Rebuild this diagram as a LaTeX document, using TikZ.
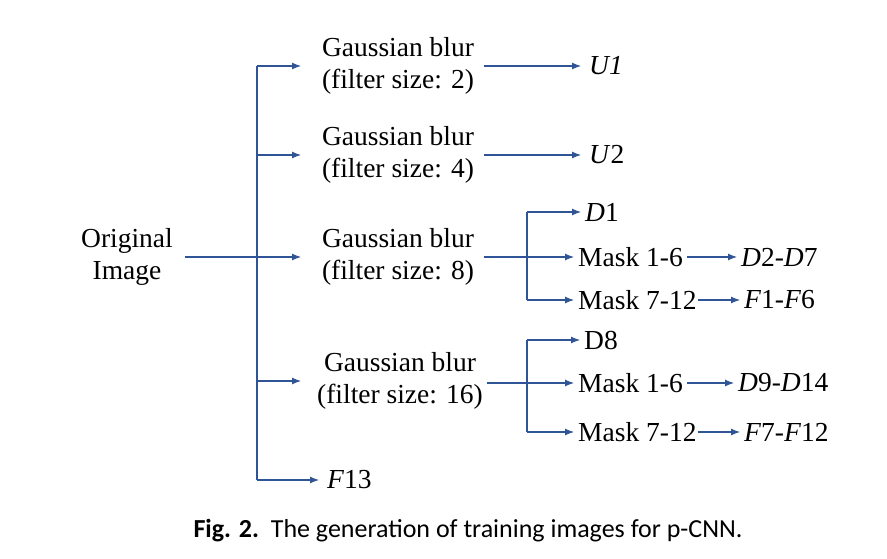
\documentclass[tikz,border=0pt]{standalone}
\usepackage{fontspec}
\setmainfont{Liberation Serif}
\newfontfamily\capfont{Carlito}
\usetikzlibrary{arrows.meta}
\definecolor{ab}{HTML}{2F5597}
\begin{document}
\begin{tikzpicture}[x=1pt,y=-1pt,
  every node/.style={font=\fontsize{27.5}{32}\selectfont,inner sep=1pt},
  box/.style={align=center},
  ar/.style={draw=ab,line width=1.1pt,-{Latex[length=9pt,width=7pt]},shorten >=7pt},
  ln/.style={draw=ab,line width=1.1pt}]
\useasboundingbox (0,0) rectangle (887,559);
\node[box] (orig) at (127,257) {Original\\Image};
\node[box] (g2) at (398,66) {Gaussian blur\\(filter size: 2)};
\node[box] (g4) at (398,155) {Gaussian blur\\(filter size: 4)};
\node[box] (g8) at (398,257) {Gaussian blur\\(filter size: 8)};
\node[box] (g16) at (400,381) {Gaussian blur\\(filter size: 16)};
\node[anchor=west] (f13) at (326,480) {\textit{F}13};
\node[anchor=west] (u1) at (588,66) {\textit{U1}};
\node[anchor=west] (u2) at (588,155) {\textit{U}2};
\node[anchor=west] (d1) at (584,212) {\textit{D}1};
\node[anchor=west] (m1) at (577,257) {Mask 1-6};
\node[anchor=west] (m2) at (577,300) {Mask 7-12};
\node[anchor=west] (d2) at (740,257) {\textit{D}2-\textit{D}7};
\node[anchor=west] (f1) at (743,300) {\textit{F}1-\textit{F}6};
\node[anchor=west] (d8) at (583,340) {D8};
\node[anchor=west] (m3) at (577,383) {Mask 1-6};
\node[anchor=west] (m4) at (577,432) {Mask 7-12};
\node[anchor=west] (d9) at (737,383) {\textit{D}9-\textit{D}14};
\node[anchor=west] (f7) at (743,432) {\textit{F}7-\textit{F}12};
\node (cap) at (468,531) {\capfont\fontsize{26}{30}\selectfont\textbf{Fig. 2.}\ \ The generation of training images for p-CNN.};
\coordinate (t1) at (257,66); \coordinate (t5) at (257,480);
\draw[ln] (t1) -- (t5);
\draw[ar] (185,257) -- (308,257);
\draw[ar] (t1) -- (308,66);
\draw[ar] (257,155) -- (308,155);
\draw[ar] (257,381) -- (308,381);
\draw[ar] (t5) -- (f13.west);
\draw[ar] (484,66) -- (u1.west);
\draw[ar] (484,155) -- (u2.west);
% third
\coordinate (v1) at (527,212); \coordinate (v2) at (527,300);
\draw[ln] (484,257) -- (527,257);
\draw[ln] (v1) -- (v2);
\draw[ar,shorten >=3pt] (v1) -- (d1.west);
\draw[ar,shorten >=3pt] (527,257) -- (m1.west);
\draw[ar,shorten >=3pt] (v2) -- (m2.west);
\draw[ar,shorten <=3pt,shorten >=3pt] (m1.east) -- (d2.west);
\draw[ar,shorten >=3pt] (m2.east) -- (f1.west);
% fourth
\coordinate (w1) at (527,340); \coordinate (w2) at (527,432);
\draw[ln] (487,383) -- (527,383);
\draw[ln] (w1) -- (w2);
\draw[ar,shorten >=3pt] (w1) -- (d8.west);
\draw[ar,shorten >=3pt] (527,383) -- (m3.west);
\draw[ar,shorten >=3pt] (w2) -- (m4.west);
\draw[ar,shorten <=3pt,shorten >=3pt] (m3.east) -- (d9.west);
\draw[ar,shorten >=3pt] (m4.east) -- (f7.west);
\end{tikzpicture}
\end{document}
